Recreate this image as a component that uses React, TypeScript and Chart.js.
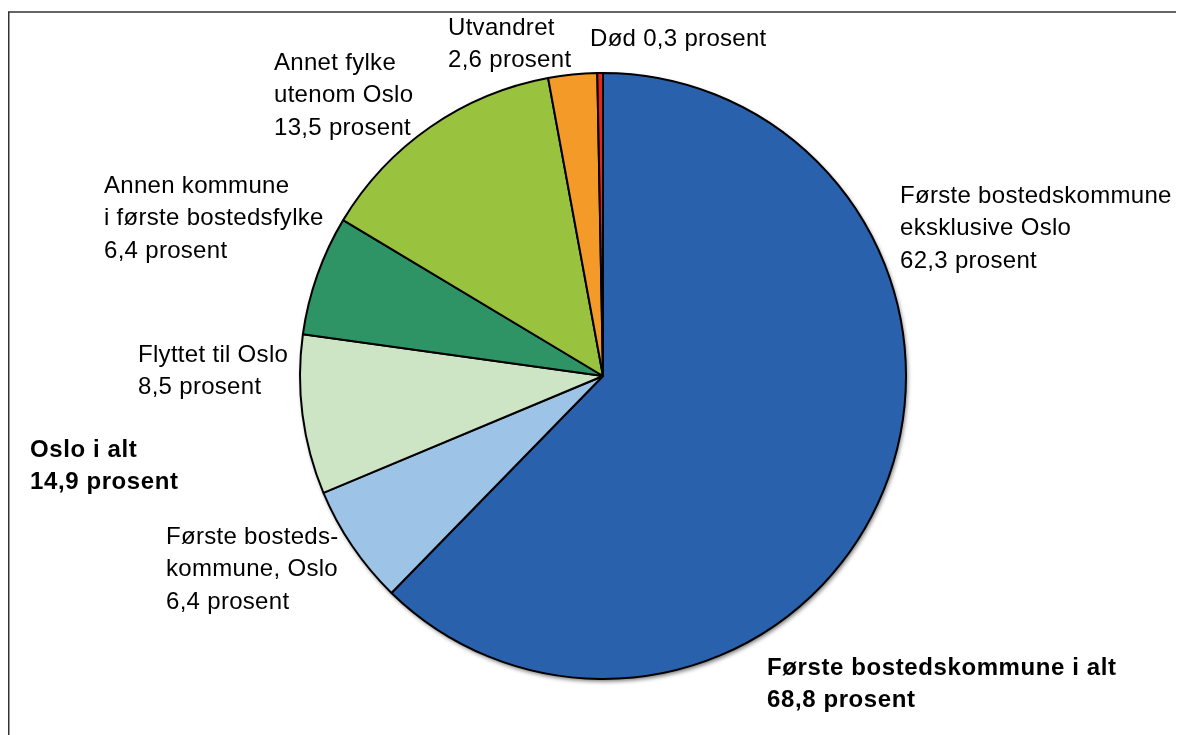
import React, { useEffect, useRef } from "react";
import { Chart, registerables } from "chart.js";

Chart.register(...registerables);

// ---- data ----
const categories = [
  "Første bostedskommune eksklusive Oslo",
  "Første bostedskommune, Oslo",
  "Flyttet til Oslo",
  "Annen kommune i første bostedsfylke",
  "Annet fylke utenom Oslo",
  "Utvandret",
  "Død",
];
const values = [62.3, 6.4, 8.5, 6.4, 13.5, 2.6, 0.3];
const sliceColors = ["#2961ad", "#9dc3e6", "#cde4c5", "#2e9466", "#99c23f", "#f39a28", "#e8241b"];

// label text lines for each slice
const sliceLabels = [
  ["Første bostedskommune", "eksklusive Oslo", "62,3 prosent"],
  ["Første bosteds-", "kommune, Oslo", "6,4 prosent"],
  ["Flyttet til Oslo", "8,5 prosent"],
  ["Annen kommune", "i første bostedsfylke", "6,4 prosent"],
  ["Annet fylke", "utenom Oslo", "13,5 prosent"],
  ["Utvandret", "2,6 prosent"],
  ["Død 0,3 prosent"],
];
// summary annotations
const summaryLabels = [
  ["Oslo i alt", "14,9 prosent"],
  ["Første bostedskommune i alt", "68,8 prosent"],
];

// ---- layout (canvas coordinates, canvas placed at page 8,8) ----
const sliceLabelPos = [
  [892, 188],
  [158, 529],
  [130, 347],
  [96, 178],
  [266, 55],
  [440, 20],
  [582, 31],
];
const summaryPos = [
  [22, 442],
  [759, 660],
];
const LINE_H = 32.5;

const labelPlugin = {
  id: "labels",
  beforeDatasetsDraw(chart: any) {
    const ctx = chart.ctx;
    const arc = chart.getDatasetMeta(0).data[0];
    if (!arc) return;
    const { x, y, outerRadius } = arc.getProps(["x", "y", "outerRadius"], true);
    ctx.save();
    ctx.shadowColor = "rgba(0,0,0,0.55)";
    ctx.shadowBlur = 4;
    ctx.shadowOffsetX = 1.5;
    ctx.shadowOffsetY = 2.5;
    ctx.beginPath();
    ctx.arc(x, y, outerRadius, 0, Math.PI * 2);
    ctx.fillStyle = "#000";
    ctx.fill();
    ctx.restore();
  },
  afterDraw(chart: any) {
    const ctx = chart.ctx;
    ctx.save();
    // frame
    ctx.strokeStyle = "#333";
    ctx.lineWidth = 1.5;
    ctx.beginPath();
    ctx.moveTo(0.75, chart.height + 5);
    ctx.lineTo(0.75, 4);
    ctx.lineTo(chart.width + 5, 4);
    ctx.stroke();

    ctx.fillStyle = "#000";
    ctx.textBaseline = "middle";
    ctx.textAlign = "left";
    ctx.font = "24px 'Liberation Sans', Arial, sans-serif";
    (ctx as any).letterSpacing = "0.3px";
    sliceLabels.forEach((lines, i) => {
      const [lx, ly] = sliceLabelPos[i];
      lines.forEach((t, j) => ctx.fillText(t, lx, ly + j * LINE_H));
    });
    ctx.font = "bold 24px 'Liberation Sans', Arial, sans-serif";
    (ctx as any).letterSpacing = "0.6px";
    summaryLabels.forEach((lines, i) => {
      const [lx, ly] = summaryPos[i];
      lines.forEach((t, j) => ctx.fillText(t, lx, ly + j * LINE_H));
    });
    ctx.restore();
  },
};

export default function App() {
  const ref = useRef<HTMLCanvasElement>(null);
  useEffect(() => {
    document.documentElement.style.overflow = "hidden";
    if (!ref.current) return;
    const chart = new Chart(ref.current, {
      type: "pie",
      data: {
        labels: categories,
        datasets: [
          {
            data: values,
            backgroundColor: sliceColors,
            borderColor: "#000",
            borderWidth: 2,
            borderAlign: "center",
          },
        ],
      },
      options: {
        responsive: false,
        animation: false,
        layout: { padding: { left: 291, right: 277, top: 64, bottom: 55 } },
        plugins: {
          legend: { display: false },
          tooltip: { enabled: false },
        },
      },
      plugins: [labelPlugin],
    });
    return () => chart.destroy();
  }, []);
  return (
    <canvas ref={ref} width={1176} height={727} style={{ display: "block", width: 1176, height: 727 }} />
  );
}
